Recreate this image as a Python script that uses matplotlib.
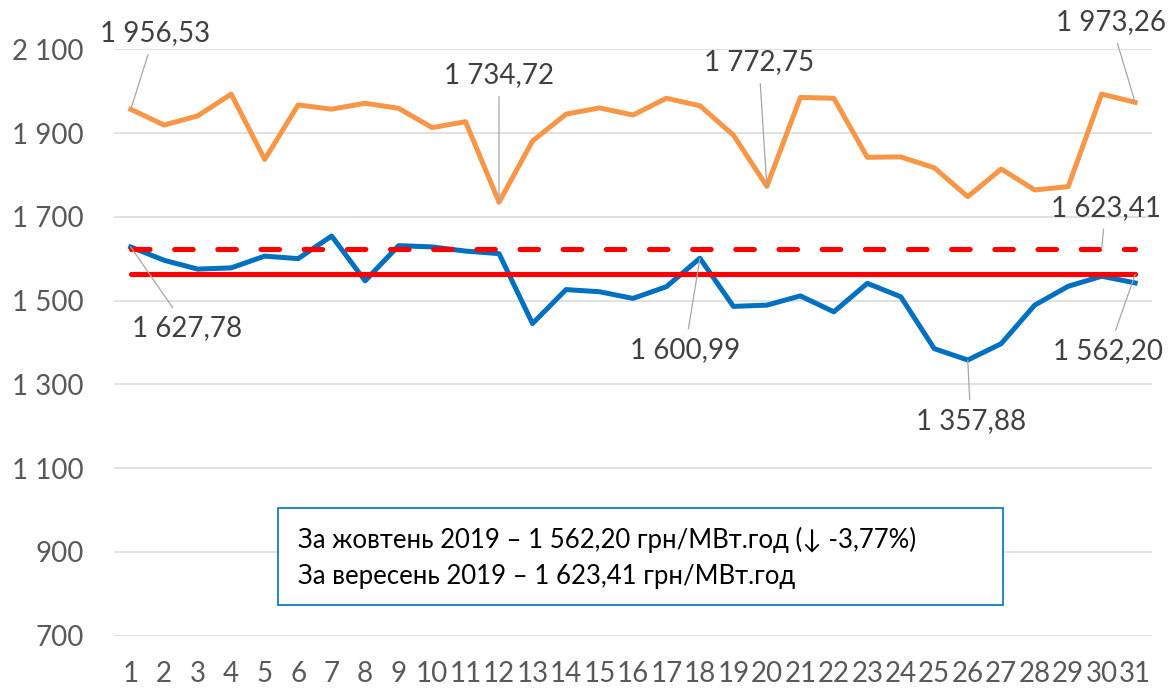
import matplotlib
matplotlib.use("Agg")
import matplotlib.pyplot as plt
from matplotlib.patches import Rectangle

plt.rcParams['font.family'] = ['Lato', 'DejaVu Sans']

# daily values, October 2019
days = list(range(1, 32))
price_max = [1956.53, 1919, 1941, 1993, 1837, 1967, 1957, 1971, 1959, 1913, 1927, 1734.72,
             1881, 1945, 1960, 1943, 1983, 1965, 1895, 1772.75, 1985, 1983, 1842, 1843,
             1817, 1748, 1814, 1764, 1772, 1993, 1973.26]
price_avg = [1627.78, 1596, 1575, 1578, 1606, 1600, 1654, 1547, 1631, 1628, 1618, 1612,
             1445, 1526, 1521, 1505, 1533, 1600.99, 1486, 1489, 1511, 1473, 1541, 1509,
             1385, 1357.88, 1397, 1489, 1534, 1558, 1542]
avg_oct = 1562.20
avg_sep = 1623.41

y_ticks = [700, 900, 1100, 1300, 1500, 1700, 1900, 2100]
y_tick_labels = ["700", "900", "1 100", "1 300", "1 500", "1 700", "1 900", "2 100"]
x_tick_labels = [str(d) for d in days]

# (label, day, value, text offset in pixels)
labels = [
    ("1 956,53", 1, 1956.53, (24, 76)),
    ("1 734,72", 12, 1734.72, (0, 127)),
    ("1 772,75", 20, 1772.75, (-8, 124)),
    ("1 973,26", 31, 1973.26, (-24, 80)),
    ("1 627,78", 1, 1627.78, (56, -81)),
    ("1 600,99", 18, 1600.99, (-15, -92)),
    ("1 357,88", 26, 1357.88, (3, -61)),
    ("1 623,41", 30, avg_sep, (4, 41)),
    ("1 562,20", 31, avg_oct, (-27, -77)),
]

box_lines = ["За жовтень 2019 – 1 562,20 грн/МВт.год (↓ -3,77%)",
             "За вересень 2019 – 1 623,41 грн/МВт.год"]

fig = plt.figure(figsize=(11.73, 6.91), dpi=100)
ax = fig.add_axes([0.0972, 0.0803, 0.8848, 0.8484])

ax.plot(days, price_max, color='#F79646', lw=3.6, solid_joinstyle='round', zorder=3)
ax.plot(days, price_avg, color='#0070C0', lw=3.6, solid_joinstyle='round', zorder=3)
ax.plot([days[0], days[-1]], [avg_oct, avg_oct], color='#FF0000', lw=3.7,
        solid_capstyle='round', zorder=4)
ax.plot([days[0], days[-1]], [avg_sep, avg_sep], color='#FF0000', lw=3.7,
        ls=(0, (3.6, 4.8)), dash_capstyle='round', zorder=4)

ax.set_xlim(0.5, 31.5)
ax.set_ylim(700, 2100)
ax.set_yticks(y_ticks)
ax.set_yticklabels(y_tick_labels)
ax.set_xticks(days)
ax.set_xticklabels(x_tick_labels)
ax.tick_params(axis='y', length=0, pad=22, labelsize=20, labelcolor='#595959')
ax.tick_params(axis='x', length=0, pad=18, labelsize=20, labelcolor='#595959')
ax.grid(axis='y', color='#D9D9D9', lw=1.1)
ax.set_axisbelow(True)
for s in ax.spines.values():
    s.set_visible(False)

for txt, d, v, off in labels:
    ax.annotate(txt, xy=(d, v), xytext=off, textcoords='offset pixels',
                ha='center', va='center', fontsize=20, color='#404040',
                annotation_clip=False, zorder=5,
                arrowprops=dict(arrowstyle='-', color='#A6A6A6', lw=0.9,
                                shrinkA=4, shrinkB=0))

# summary box
fig.patches.append(Rectangle((0.237, 0.1245), 0.618, 0.1404, transform=fig.transFigure,
                             facecolor='white', edgecolor='#0070C0', lw=1.2, zorder=6))
fig.text(0.254, 0.218, box_lines[0], fontsize=18.5, color='black', va='center', zorder=7)
fig.text(0.254, 0.165, box_lines[1], fontsize=18.5, color='black', va='center', zorder=7)

fig.savefig('out.png', dpi=100)
